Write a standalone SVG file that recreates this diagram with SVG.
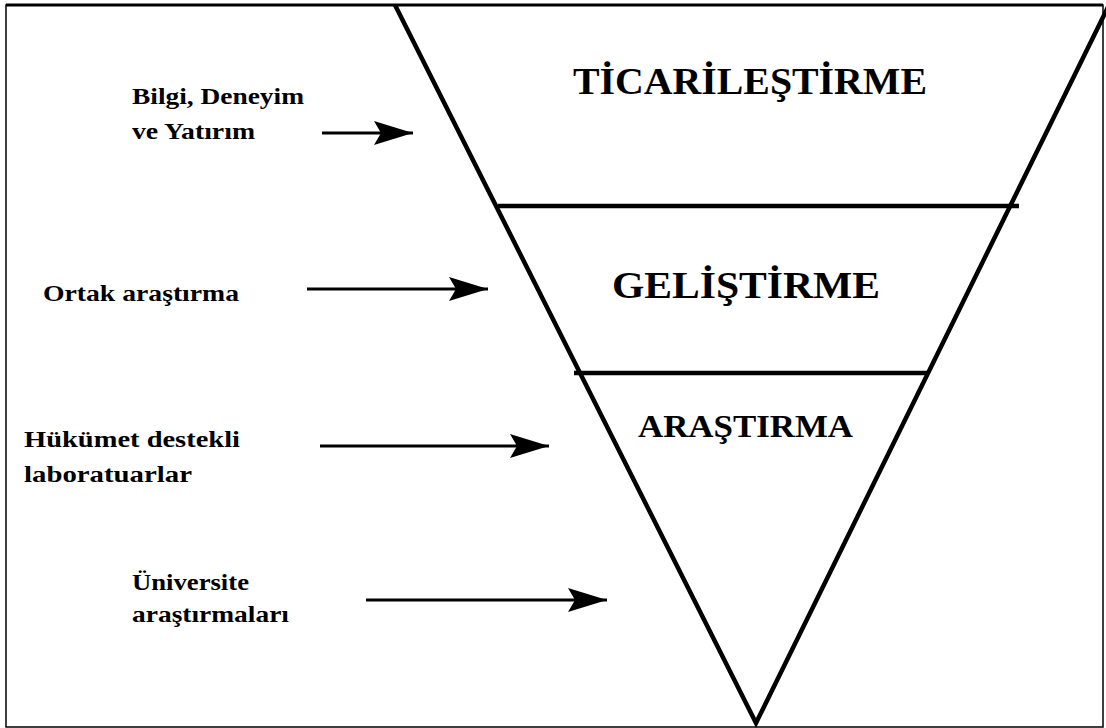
<svg xmlns="http://www.w3.org/2000/svg" width="1106" height="728" viewBox="0 0 1106 728">
  <style>
    .frame { fill: none; stroke: #000; stroke-width: 1.5; }
    .funnel { fill: none; stroke: #000; stroke-width: 4.5; stroke-linejoin: miter; }
    .band { stroke: #000; stroke-width: 4.5; }
    .stage { font-family: "Liberation Serif", "Times New Roman", serif; font-weight: bold; fill: #000; }
    .label { font-family: "Liberation Serif", "Times New Roman", serif; font-weight: bold; font-size: 24px; fill: #000; }
    .arrow { stroke: #000; stroke-width: 2.8; fill: none; marker-end: url(#head); }
  </style>
  <defs>
    <marker id="head" markerUnits="userSpaceOnUse" markerWidth="42" markerHeight="26" refX="39" refY="13" orient="auto">
      <path d="M0,1 L39,13 L0,25 L7,13 Z" fill="#000"/>
    </marker>
  </defs>

  <rect width="1106" height="728" fill="#fff"/>
  <rect class="frame" x="6" y="5" width="1097" height="722"/>

  <!-- inverted funnel -->
  <g id="funnel">
    <line x1="6" y1="5" x2="1103" y2="5" stroke="#000" stroke-width="3"/>
    <polyline class="funnel" points="395,5 756,723 1109,5"/>
    <line class="band" x1="498" y1="206" x2="1019" y2="206"/>
    <line class="band" x1="574" y1="373" x2="928" y2="373"/>
  </g>

  <g id="ticarilestirme">
    <text class="stage" x="573" y="94" font-size="37" textLength="354" lengthAdjust="spacingAndGlyphs">TİCARİLEŞTİRME</text>
  </g>
  <g id="gelistirme">
    <text class="stage" x="612" y="298" font-size="37" textLength="268" lengthAdjust="spacingAndGlyphs">GELİŞTİRME</text>
  </g>
  <g id="arastirma">
    <text class="stage" x="638" y="437" font-size="32" textLength="215" lengthAdjust="spacingAndGlyphs">ARAŞTIRMA</text>
  </g>

  <!-- inputs -->
  <g id="bilgi">
    <text class="label" x="132" y="104" textLength="172" lengthAdjust="spacingAndGlyphs">Bilgi, Deneyim</text>
    <text class="label" x="132" y="139" textLength="123" lengthAdjust="spacingAndGlyphs">ve Yatırım</text>
  </g>
  <g id="ortak">
    <text class="label" x="43" y="301" textLength="196" lengthAdjust="spacingAndGlyphs">Ortak araştırma</text>
  </g>
  <g id="hukumet">
    <text class="label" x="24" y="447" textLength="216" lengthAdjust="spacingAndGlyphs">Hükümet destekli</text>
    <text class="label" x="24" y="482" textLength="168" lengthAdjust="spacingAndGlyphs">laboratuarlar</text>
  </g>
  <g id="universite">
    <text class="label" x="132" y="590" textLength="117" lengthAdjust="spacingAndGlyphs">Üniversite</text>
    <text class="label" x="132" y="622" textLength="157" lengthAdjust="spacingAndGlyphs">araştırmaları</text>
  </g>

  <g id="connectors">
    <line class="arrow" x1="322" y1="133" x2="413" y2="133"/>
    <line class="arrow" x1="307" y1="289" x2="488" y2="289"/>
    <line class="arrow" x1="320" y1="446" x2="549" y2="446"/>
    <line class="arrow" x1="366" y1="600" x2="607" y2="600"/>
  </g>
</svg>
